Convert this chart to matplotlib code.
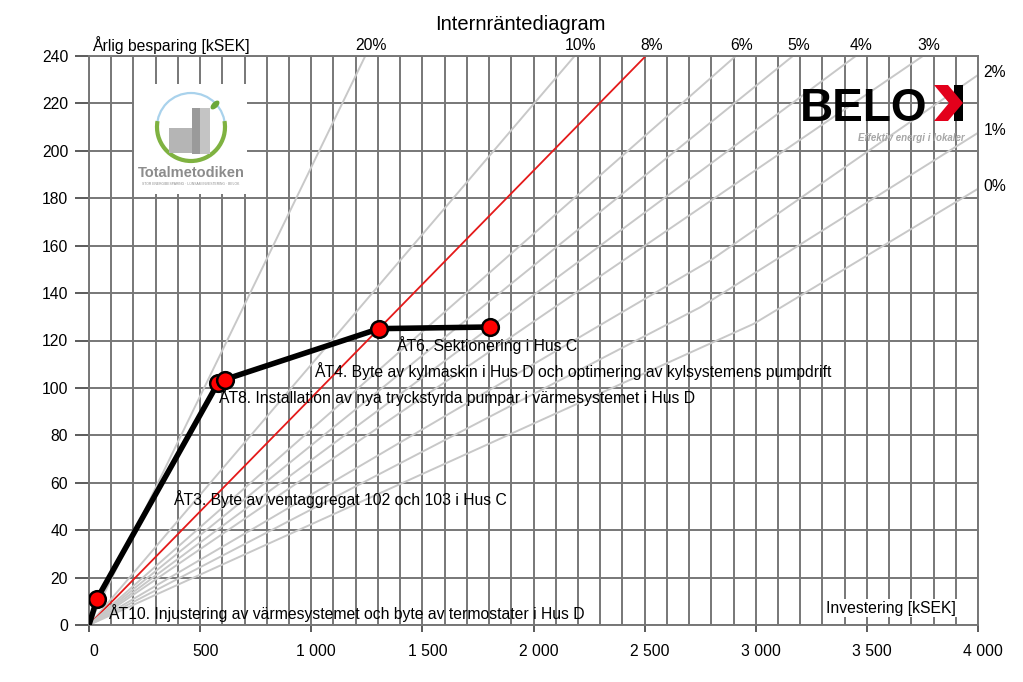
import matplotlib
matplotlib.use('Agg')

import matplotlib.pyplot as plt
from matplotlib.patches import Rectangle, Arc, Ellipse, Polygon
from matplotlib.transforms import ScaledTranslation

plt.rcParams['font.family'] = ['Liberation Sans', 'DejaVu Sans']

# --- data ---------------------------------------------------------------
# internräntekurvor (investering, årlig besparing)
rate_labels = ["20%", "10%", "8%", "6%", "5%", "4%", "3%", "2%", "1%", "0%"]
rate_x = [
    [0, 1243],
    [0, 2185],
    [0, 2505],
    [0, 2910],
    [0, 3167],
    [0, 3450],
    [0, 3752],
    [0, 2800, 4000],
    [0, 2750, 4000],
    [0, 2990, 4000],
]
rate_y = [
    [0, 240],
    [0, 240],
    [0, 240],
    [0, 240],
    [0, 240],
    [0, 240],
    [0, 240],
    [0, 154, 232],
    [0, 134, 207.6],
    [0, 127, 184],
]

# åtgärder, ackumulerat
atg_namn = [
    "ÅT10. Injustering av värmesystemet och byte av termostater i Hus D",
    "ÅT3. Byte av ventaggregat 102 och 103 i Hus C",
    "ÅT8. Installation av nya tryckstyrda pumpar i värmesystemet i Hus D",
    "ÅT4. Byte av kylmaskin i Hus D och optimering av kylsystemens pumpdrift",
    "ÅT6. Sektionering i Hus C",
]
atg_inv = [36, 580, 610, 1306, 1806]
atg_bes = [11, 102, 103.5, 125, 125.7]

x_ticks = [0, 500, 1000, 1500, 2000, 2500, 3000, 3500, 4000]
y_ticks = [0, 20, 40, 60, 80, 100, 120, 140, 160, 180, 200, 220, 240]

# var etiketterna står (vänsterkant, mitt)
label_pos = [(86, 5), (378, 53), (581, 96), (1014, 107), (1383, 118)]

FS = 11.3
GRID = '#777777'

fig = plt.figure(figsize=(10.23, 6.82), dpi=100)
ax = fig.add_axes([89 / 1023, 1 - 625 / 682, (978 - 89) / 1023, (625 - 56) / 682])

ax.set_xlim(0, 4000)
ax.set_ylim(0, 240)
ax.set_xticks(x_ticks)
ax.set_xticklabels([f"{v:,}".replace(",", " ") for v in x_ticks], fontsize=FS)
ax.set_xticks(range(0, 4001, 100), minor=True)
ax.set_yticks(y_ticks)
ax.set_yticklabels([str(v) for v in y_ticks], fontsize=FS)
ax.tick_params(axis='x', which='major', length=5, width=1.2, color='#404040', pad=9)
ax.tick_params(axis='x', which='minor', length=0)
ax.tick_params(axis='y', length=10, width=1.2, color='#404040', pad=5)
for lbl in ax.get_xticklabels():
    lbl.set_transform(lbl.get_transform() + ScaledTranslation(0.05, 0, fig.dpi_scale_trans))

ax.grid(True, which='both', axis='x', color=GRID, linewidth=1.4, zorder=0)
ax.grid(True, which='major', axis='y', color=GRID, linewidth=1.4, zorder=0)
ax.set_axisbelow(True)
for s in ax.spines.values():
    s.set_color(GRID)
    s.set_linewidth(1.4)

# internräntekurvor
for lab, xs, ys in zip(rate_labels, rate_x, rate_y):
    if lab == "8%":
        ax.plot(xs, ys, color='#e41a1a', linewidth=1.3, zorder=2)
    else:
        ax.plot(xs, ys, color='#c8c8c8', linewidth=1.4, zorder=2)
    if ys[-1] >= 240:
        ax.text(xs[-1] + 25, 244.5, lab, fontsize=FS, ha='center', va='center', clip_on=False)
    else:
        ax.text(4025, ys[-1] + 1, lab, fontsize=FS, ha='left', va='center', clip_on=False)

# åtgärdskurva
ax.plot([0] + atg_inv, [0] + atg_bes, color='black', linewidth=4, zorder=4,
        solid_capstyle='round', solid_joinstyle='round')
ax.plot(atg_inv, atg_bes, 'o', markersize=12, markerfacecolor='#ff0000',
        markeredgecolor='black', markeredgewidth=1.8, zorder=5)

for namn, (lx, ly) in zip(atg_namn, label_pos):
    ax.text(lx, ly, namn, fontsize=FS, ha='left', va='center', zorder=6)

ax.text(3315, 7, "Investering [kSEK]", fontsize=FS, ha='left', va='center', zorder=3,
        bbox=dict(facecolor='white', edgecolor='none', pad=1))
fig.text(92 / 1023, 1 - 45 / 682, "Årlig besparing [kSEK]", fontsize=FS, ha='left', va='center')
fig.text(520 / 1023, 1 - 24 / 682, "Internräntediagram", fontsize=14.5, ha='center', va='center')

# Totalmetodiken-logga
lg = fig.add_axes([134 / 1023, 1 - 194 / 682, 113 / 1023, 110 / 682])
lg.set_xlim(0, 113)
lg.set_ylim(110, 0)
lg.set_facecolor('white')
for s in lg.spines.values():
    s.set_visible(False)
lg.set_xticks([])
lg.set_yticks([])
lg.add_patch(Arc((57, 43), 68, 68, theta1=180, theta2=360, color='#a9d2ec', linewidth=1.6))
lg.add_patch(Arc((57, 43), 68, 68, theta1=-10, theta2=190, color='#7fb241', linewidth=3))
lg.add_patch(Rectangle((35, 44), 26, 25, facecolor='#b5b5b5', edgecolor='none'))
lg.add_patch(Rectangle((58, 24), 18, 46, facecolor='#9a9a9a', edgecolor='none'))
lg.add_patch(Rectangle((66, 24), 10, 46, facecolor='#c4c4c4', edgecolor='none'))
lg.add_patch(Ellipse((81, 21), 11, 6, angle=-45, facecolor='#6aa83a', edgecolor='none'))
lg.text(57, 89, "Totalmetodiken", fontsize=10.5, fontweight='bold', color='#8c8c8c',
        ha='center', va='center')
lg.text(57, 100, "STOR ENERGIBESPARING · LÖNSAM INVESTERING · BELOK", fontsize=2.4,
        color='#8c8c8c', ha='center', va='center')

# BELOK-logga
bl = fig.add_axes([795 / 1023, 1 - 146 / 682, 175 / 1023, 66 / 682])
bl.set_xlim(795, 970)
bl.set_ylim(146, 80)
bl.axis('off')
bl.text(800, 121, "BELO", fontsize=33, fontweight='bold', color='black',
        ha='left', va='baseline')
bl.add_patch(Rectangle((954, 85), 9, 36, facecolor='black', edgecolor='none'))
bl.add_patch(Polygon([(934, 85), (948, 85), (963, 103), (948, 121), (934, 121), (949, 103)],
                     closed=True, facecolor='#e3001b', edgecolor='none'))
bl.text(965, 138, "Effektiv energi i lokaler", fontsize=7, fontweight='bold', style='italic',
        color='#a6a6a6', ha='right', va='center')

fig.savefig('out.png', dpi=100)
